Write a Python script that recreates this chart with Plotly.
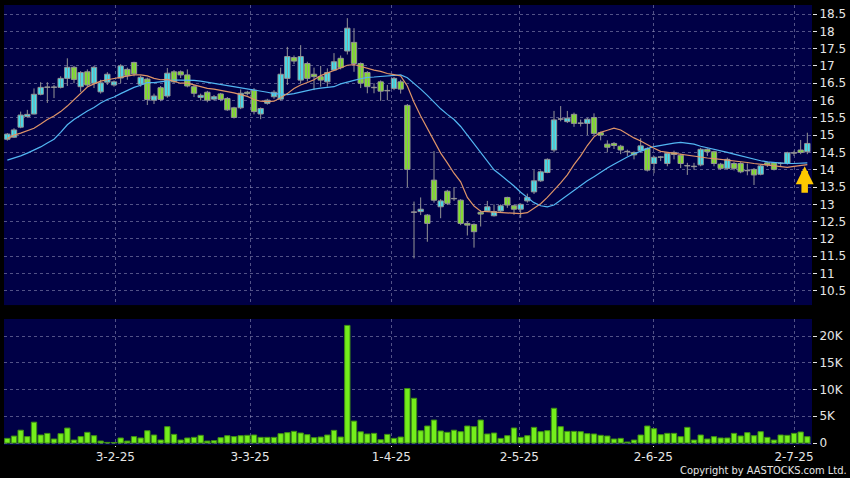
import plotly.graph_objects as go

# ---------------- data ----------------
opens = [14.88, 14.94, 15.23, 15.54, 15.61, 16.18, 16.38, 16.38, 16.38, 16.64,
         16.96, 16.40, 16.83, 16.50, 16.25, 16.53, 16.45, 16.65, 16.90, 17.10,
         16.47, 16.62, 16.01, 16.37, 16.13, 16.83, 16.83, 16.74, 16.40, 16.09,
         16.24, 16.04, 16.19, 16.06, 15.79, 15.79, 16.24, 16.30, 15.61, 15.92,
         16.11, 16.04, 16.64, 17.24, 16.59, 17.07, 16.76, 16.69, 16.54, 16.88,
         17.22, 17.43, 17.68, 17.07, 16.81, 16.37, 16.54, 16.28, 16.35, 16.54,
         15.86, 12.77, 12.79, 12.69, 13.70, 12.93, 13.38, 13.16, 13.12, 12.45,
         12.42, 12.77, 12.81, 12.67, 12.81, 13.20, 12.96, 12.86, 13.10, 13.36,
         13.68, 13.92, 14.57, 15.46, 15.39, 15.60, 15.34, 15.34, 15.51, 15.07,
         14.74, 14.76, 14.68, 14.52, 14.50, 14.55, 14.61, 14.18, 14.36, 14.18,
         14.50, 14.42, 14.11, 14.09, 14.14, 14.59, 14.52, 14.16, 14.04, 14.18,
         14.18, 13.97, 14.01, 13.87, 14.20, 14.20, 14.18, 14.18, 14.48, 14.57,
         14.52]
highs = [15.06, 15.20, 15.68, 15.73, 16.35, 16.53, 16.53, 16.45, 16.70, 17.22,
         17.00, 16.85, 16.90, 17.00, 16.60, 16.82, 16.58, 17.05, 16.95, 17.12,
         16.72, 16.66, 16.20, 16.42, 16.94, 16.88, 16.87, 16.90, 16.45, 16.20,
         16.28, 16.16, 16.22, 16.10, 15.82, 16.32, 16.28, 16.36, 15.80, 16.05,
         16.30, 16.95, 17.55, 17.30, 17.60, 17.12, 16.95, 17.00, 16.93, 17.37,
         17.30, 18.38, 18.09, 17.10, 16.85, 16.50, 16.58, 16.45, 16.68, 16.60,
         15.90, 13.08, 13.20, 12.72, 14.54, 13.15, 13.42, 13.50, 13.15, 12.51,
         12.45, 12.83, 13.10, 13.00, 13.00, 13.22, 12.99, 13.03, 13.31, 13.99,
         13.98, 14.33, 15.70, 15.84, 15.70, 15.65, 15.45, 15.50, 15.63, 15.10,
         14.85, 14.80, 14.72, 14.58, 14.53, 14.91, 14.65, 14.40, 14.40, 14.50,
         14.55, 14.46, 14.20, 14.20, 14.63, 14.62, 14.55, 14.20, 14.35, 14.22,
         14.22, 14.18, 14.05, 14.14, 14.24, 14.22, 14.22, 14.52, 14.55, 14.86,
         15.07]
lows = [14.84, 14.92, 15.20, 15.50, 15.60, 16.15, 15.93, 16.07, 16.35, 16.42,
        16.50, 16.25, 16.40, 16.36, 16.20, 16.45, 16.40, 16.50, 16.60, 16.70,
        16.40, 15.87, 15.90, 15.98, 16.08, 16.50, 16.65, 16.38, 16.10, 16.00,
        15.95, 16.00, 15.98, 15.70, 15.48, 15.75, 16.15, 15.60, 15.46, 15.88,
        16.05, 16.00, 16.45, 17.05, 16.50, 16.55, 16.30, 16.40, 16.40, 16.85,
        16.90, 17.33, 16.83, 16.36, 16.21, 16.21, 15.99, 16.01, 16.30, 16.20,
        13.50, 11.44, 12.69, 11.92, 13.05, 12.60, 12.98, 13.10, 12.40, 12.10,
        11.75, 12.36, 12.78, 12.65, 12.78, 12.90, 12.70, 12.61, 13.05, 13.30,
        13.65, 13.90, 14.50, 15.40, 15.35, 15.24, 15.25, 15.00, 15.00, 14.85,
        14.50, 14.60, 14.45, 14.40, 14.30, 14.50, 13.95, 13.90, 14.25, 14.10,
        14.30, 14.05, 13.85, 14.00, 14.10, 14.40, 14.10, 14.00, 14.00, 13.98,
        13.90, 13.84, 13.56, 13.84, 14.08, 13.98, 14.10, 14.15, 14.40, 14.45,
        14.45]
closes = [15.03, 15.15, 15.58, 15.60, 16.18, 16.38, 16.38, 16.38, 16.64, 16.96,
          16.61, 16.81, 16.45, 16.96, 16.51, 16.76, 16.54, 17.00, 16.72, 16.77,
          16.67, 16.03, 16.13, 16.03, 16.79, 16.54, 16.74, 16.42, 16.21, 16.15,
          16.01, 16.11, 16.03, 15.73, 15.51, 16.21, 16.20, 15.68, 15.77, 16.01,
          16.24, 16.76, 17.27, 17.14, 17.27, 16.64, 16.69, 16.59, 16.81, 17.12,
          16.95, 18.09, 17.07, 16.50, 16.40, 16.37, 16.27, 16.28, 16.64, 16.33,
          14.01, 12.77, 12.86, 12.45, 13.12, 13.10, 13.03, 13.16, 12.45, 12.40,
          12.21, 12.72, 12.93, 12.79, 12.96, 12.98, 12.86, 13.00, 13.20, 13.68,
          13.94, 14.30, 15.44, 15.46, 15.49, 15.34, 15.34, 15.46, 15.05, 15.00,
          14.65, 14.70, 14.57, 14.52, 14.43, 14.69, 13.99, 14.36, 14.36, 14.47,
          14.44, 14.18, 14.11, 14.09, 14.59, 14.52, 14.18, 14.04, 14.30, 14.04,
          13.94, 13.97, 13.85, 14.11, 14.14, 14.01, 14.18, 14.49, 14.48, 14.50,
          14.76]
ma_short = [14.90, 15.00, 15.06, 15.12, 15.20, 15.32, 15.45, 15.55, 15.68, 15.84,
            16.02, 16.22, 16.39, 16.48, 16.56, 16.60, 16.64, 16.67, 16.70, 16.74,
            16.74, 16.71, 16.64, 16.60, 16.61, 16.55, 16.50, 16.50, 16.45, 16.39,
            16.35, 16.33, 16.30, 16.26, 16.22, 16.17, 16.12, 16.03, 15.98, 15.97,
            15.98, 16.08, 16.20, 16.35, 16.45, 16.52, 16.60, 16.72, 16.79, 16.86,
            16.93, 17.02, 17.04, 16.98, 16.93, 16.88, 16.84, 16.78, 16.75, 16.71,
            16.42, 15.95, 15.55, 15.20, 14.82, 14.48, 14.20, 13.90, 13.65, 13.20,
            12.95, 12.80, 12.79, 12.78, 12.76, 12.75, 12.74, 12.73, 12.76, 12.88,
            13.02, 13.20, 13.40, 13.62, 13.85, 14.15, 14.40, 14.70, 14.95, 15.08,
            15.14, 15.20, 15.15, 15.03, 14.92, 14.83, 14.72, 14.62, 14.53, 14.50,
            14.48, 14.45, 14.41, 14.38, 14.36, 14.34, 14.32, 14.30, 14.29, 14.27,
            14.24, 14.21, 14.18, 14.16, 14.13, 14.11, 14.09, 14.07, 14.10, 14.12,
            14.15]
ma_long = [14.28, 14.33, 14.40, 14.48, 14.56, 14.66, 14.77, 14.88, 15.08, 15.30,
           15.45, 15.58, 15.70, 15.80, 15.93, 16.03, 16.10, 16.20, 16.30, 16.38,
           16.44, 16.52, 16.52, 16.55, 16.58, 16.59, 16.59, 16.59, 16.58, 16.56,
           16.53, 16.50, 16.47, 16.43, 16.40, 16.37, 16.33, 16.30, 16.27, 16.24,
           16.20, 16.18, 16.17, 16.20, 16.25, 16.29, 16.33, 16.36, 16.38, 16.40,
           16.48, 16.54, 16.58, 16.63, 16.67, 16.68, 16.70, 16.72, 16.74, 16.74,
           16.66, 16.50, 16.33, 16.15, 15.95, 15.76, 15.60, 15.45, 15.25, 15.00,
           14.75, 14.50, 14.22, 14.00, 13.85, 13.70, 13.53, 13.35, 13.20, 13.05,
           12.96, 12.93, 12.98, 13.12, 13.27, 13.42, 13.55, 13.68, 13.80, 13.93,
           14.05, 14.16, 14.27, 14.37, 14.46, 14.54, 14.61, 14.67, 14.71, 14.74,
           14.77, 14.79, 14.77, 14.74, 14.68, 14.64, 14.60, 14.55, 14.50, 14.45,
           14.40, 14.36, 14.31, 14.26, 14.23, 14.21, 14.19, 14.18, 14.18, 14.19,
           14.20]
volume_k = [0.87, 1.30, 2.40, 1.20, 3.90, 1.50, 1.80, 0.75, 1.75, 2.80,
            0.56, 1.20, 2.00, 1.37, 0.37, 0.12, 0.10, 0.94, 0.37, 1.20,
            0.94, 2.30, 1.50, 0.56, 3.06, 1.62, 0.56, 0.94, 1.06, 1.44,
            0.37, 0.44, 1.00, 1.37, 1.20, 1.37, 1.44, 1.50, 1.06, 1.06,
            1.06, 1.75, 1.94, 2.19, 1.87, 1.56, 1.00, 1.12, 1.50, 2.37,
            1.12, 22.0, 4.10, 2.10, 1.69, 1.81, 0.62, 1.62, 0.87, 1.12,
            10.2, 8.37, 2.30, 3.18, 4.30, 2.25, 2.00, 2.40, 2.12, 3.18,
            3.06, 4.30, 1.69, 1.87, 0.87, 1.37, 2.81, 1.06, 1.37, 2.93,
            2.12, 2.31, 6.50, 3.06, 2.18, 2.18, 2.12, 1.75, 1.69, 1.44,
            1.31, 0.75, 0.87, 0.19, 0.56, 1.50, 3.18, 2.68, 1.56, 1.81,
            1.81, 1.19, 2.93, 0.56, 1.50, 0.75, 1.19, 0.94, 0.94, 1.81,
            1.31, 1.94, 1.37, 2.12, 1.06, 0.56, 1.50, 1.44, 1.81, 2.06,
            1.19]
date_tick_pos = [16.2, 36.4, 57.6, 76.8, 96.9, 118.0]
date_tick_labels = ["3-2-25", "3-3-25", "1-4-25", "2-5-25", "2-6-25", "2-7-25"]
price_ticks = [10.5, 11, 11.5, 12, 12.5, 13, 13.5, 14, 14.5, 15, 15.5, 16, 16.5, 17, 17.5, 18, 18.5]
price_tick_labels = ["10.5", "11", "11.5", "12", "12.5", "13", "13.5", "14", "14.5", "15",
                     "15.5", "16", "16.5", "17", "17.5", "18", "18.5"]
vol_ticks = [0, 5, 10, 15, 20]
vol_tick_labels = ["0", "5K", "10K", "15K", "20K"]

# ---------------- styling ----------------
NAVY = "#000046"
CYAN = "#3ce4f2"
GREEN = "#80e622"
EDGE = "#959595"
VGREEN = "#74ee1c"
ORANGE = "#df9468"
BLUE = "#52b6f2"
GRID = "rgba(150,150,190,0.55)"
TXT = "#e6e6e6"
FONT = "DejaVu Sans"
CFONT = "DejaVu Sans Condensed, Liberation Sans Narrow, DejaVu Sans"

idx = list(range(len(opens)))

# candle bodies / wicks derived from the OHLC lists
body_base = [min(o, c) for o, c in zip(opens, closes)]
body_size = [max(abs(c - o), 0.012) for o, c in zip(opens, closes)]
body_color = [CYAN if c > o else (GREEN if c < o else EDGE) for o, c in zip(opens, closes)]
wick_x, wick_y = [], []
for i, h, l in zip(idx, highs, lows):
    wick_x += [i, i, None]
    wick_y += [l, h, None]

fig = go.Figure()
fig.add_trace(go.Scatter(x=wick_x, y=wick_y, mode="lines", line=dict(color=EDGE, width=1),
                         showlegend=False, hoverinfo="skip", xaxis="x", yaxis="y"))
fig.add_trace(go.Bar(x=idx, y=body_size, base=body_base, width=0.8,
                     marker=dict(color=body_color, line=dict(color=EDGE, width=1)),
                     showlegend=False, hoverinfo="skip", xaxis="x", yaxis="y"))
fig.add_trace(go.Scatter(x=idx, y=ma_long, mode="lines", line=dict(color=BLUE, width=1.2),
                         showlegend=False, hoverinfo="skip", xaxis="x", yaxis="y"))
fig.add_trace(go.Scatter(x=idx, y=ma_short, mode="lines", line=dict(color=ORANGE, width=1.2),
                         showlegend=False, hoverinfo="skip", xaxis="x", yaxis="y"))
fig.add_trace(go.Bar(x=idx, y=volume_k, width=0.8,
                     marker=dict(color=VGREEN, line=dict(color="#3f8f14", width=1)),
                     showlegend=False, hoverinfo="skip", xaxis="x2", yaxis="y2"))

xr = [-0.5, 120.7]
fig.update_layout(
    width=850, height=478, autosize=False,
    margin=dict(l=4, r=36, t=5, b=33),
    paper_bgcolor="#000000", plot_bgcolor=NAVY,
    font=dict(family=FONT, size=12, color=TXT),
    barmode="overlay",
    xaxis=dict(domain=[0, 1], anchor="y", range=xr,
               tickvals=date_tick_pos, showticklabels=False, ticks="",
               showgrid=True, gridcolor=GRID, griddash="3px,3px", gridwidth=1,
               zeroline=False, showline=False),
    yaxis=dict(domain=[0.318, 1], anchor="x", side="right", range=[10.09, 18.76],
               tickvals=price_ticks, ticktext=price_tick_labels,
               ticks="outside", ticklen=4, tickcolor=TXT,
               showgrid=True, gridcolor=GRID, griddash="3px,3px", gridwidth=1,
               zeroline=False, showline=False),
    xaxis2=dict(domain=[0, 1], anchor="y2", range=xr, matches="x",
                tickvals=date_tick_pos, ticktext=date_tick_labels,
                ticks="outside", ticklen=1, tickcolor=TXT,
                tickfont=dict(family=FONT, size=12, color=TXT),
                showgrid=True, gridcolor=GRID, griddash="3px,3px", gridwidth=1,
                zeroline=False, showline=False),
    yaxis2=dict(domain=[0, 0.2864], anchor="x2", side="right", range=[-0.37, 23.2],
                tickvals=vol_ticks, ticktext=vol_tick_labels,
                ticks="outside", ticklen=4, tickcolor=TXT,
                showgrid=True, gridcolor=GRID, griddash="3px,3px", gridwidth=1,
                zeroline=False, showline=False),
    annotations=[
        dict(x=119.6, y=14.1, xref="x", yref="y", text="", showarrow=True,
             ax=0, ay=28, arrowhead=2, arrowsize=0.55, arrowwidth=6.5,
             arrowcolor="#ffc800"),
        dict(x=1.045, y=-0.0742, xref="paper", yref="paper", xanchor="right", yanchor="bottom",
             text="Copyright by AASTOCKS.com Ltd.", showarrow=False, borderpad=0,
             font=dict(family=CFONT, size=11, color=TXT)),
    ],
)

fig.write_html("out.html", config={"displayModeBar": False},
               post_script="document.body.style.margin='0';")
